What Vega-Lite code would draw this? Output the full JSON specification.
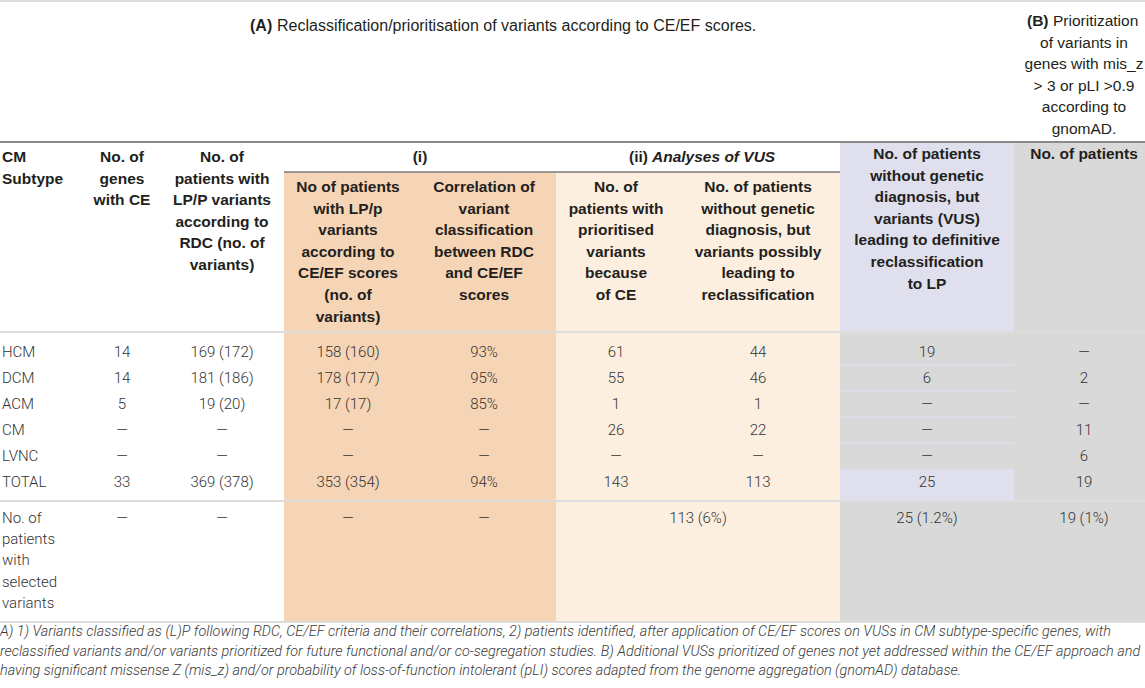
{
  "$schema": "https://vega.github.io/schema/vega-lite/v6.json",
  "width": 1145,
  "height": 688,
  "padding": 0,
  "autosize": {"type": "none"},
  "background": "#ffffff",
  "config": {"view": {"stroke": null}},
  "datasets": {
    "bg": [
      {"x": 6, "x2": 10, "y": 2, "y2": 12, "z": "dark"},
      {"x": 10, "x2": 14, "y": 2, "y2": 12, "z": "light"},
      {"x": 14, "x2": 16, "y": 1, "y2": 12, "z": "purple"},
      {"x": 16, "x2": 18, "y": 1, "y2": 12, "z": "gray"},
      {"x": 14, "x2": 16, "y": 3, "y2": 9, "z": "gray"},
      {"x": 14, "x2": 16, "y": 11, "y2": 12, "z": "gray"}
    ],
    "rules": [
      {"x": 0, "x2": 18, "y": 0, "k": "light"},
      {"x": 0, "x2": 18, "y": 1, "k": "dark"},
      {"x": 6, "x2": 14, "y": 2, "k": "mid"},
      {"x": 0, "x2": 18, "y": 3, "k": "light"},
      {"x": 0, "x2": 18, "y": 11, "k": "light"},
      {"x": 0, "x2": 18, "y": 12, "k": "light"},
      {"x": 14, "x2": 16, "y": 5, "k": "strip"},
      {"x": 14, "x2": 16, "y": 6, "k": "strip"},
      {"x": 14, "x2": 16, "y": 7, "k": "strip"},
      {"x": 14, "x2": 16, "y": 8, "k": "strip"}
    ],
    "hdrMain": [
      {"x": 3, "y": 1, "t": "No. of\ngenes\nwith CE"},
      {"x": 5, "y": 1, "t": "No. of\npatients with\nLP/P variants\naccording to\nRDC (no. of\nvariants)"},
      {"x": 8, "y": 1, "t": "(i)"},
      {"x": 7, "y": 2, "t": "No of patients\nwith LP/p\nvariants\naccording to\nCE/EF scores\n(no. of\nvariants)"},
      {"x": 9, "y": 2, "t": "Correlation of\nvariant\nclassification\nbetween RDC\nand CE/EF\nscores"},
      {"x": 11, "y": 2, "t": "No. of\npatients with\nprioritised\nvariants\nbecause\nof CE"},
      {"x": 13, "y": 2, "t": "No. of patients\nwithout genetic\ndiagnosis, but\nvariants possibly\nleading to\nreclassification"}
    ],
    "hdrLeft": [{"x": 1, "y": 1, "t": "CM\nSubtype"}],
    "hdrPG": [
      {"x": 15, "y": 1, "t": "No. of patients\nwithout genetic\ndiagnosis, but\nvariants (VUS)\nleading to definitive\nreclassification\nto LP"},
      {"x": 17, "y": 1, "t": "No. of patients"}
    ],
    "ii": [{"x": 12, "y": 1, "t": "(ii)"}],
    "vus": [{"x": 12, "y": 1, "t": "Analyses of VUS"}],
    "aBold": [{"x": 6, "y": 0, "t": "(A)"}],
    "aText": [{"x": 6, "y": 0, "t": "Reclassification/prioritisation of variants according to CE/EF scores."}],
    "bBold": [{"x": 17, "y": 0, "t": "(B)"}],
    "bText1": [{"x": 17, "y": 0, "t": "Prioritization"}],
    "bText2": [{"x": 17, "y": 0, "t": "of variants in\ngenes with mis_z\n> 3 or pLI >0.9\naccording to\ngnomAD."}],
    "labels": [
      {"x": 1, "y": 4, "t": "HCM"},
      {"x": 1, "y": 5, "t": "DCM"},
      {"x": 1, "y": 6, "t": "ACM"},
      {"x": 1, "y": 7, "t": "CM"},
      {"x": 1, "y": 8, "t": "LVNC"},
      {"x": 1, "y": 9, "t": "TOTAL"}
    ],
    "cells": [
      {"x": 3, "y": 4, "t": "14"}, {"x": 5, "y": 4, "t": "169 (172)"}, {"x": 7, "y": 4, "t": "158 (160)"}, {"x": 9, "y": 4, "t": "93%"}, {"x": 11, "y": 4, "t": "61"}, {"x": 13, "y": 4, "t": "44"}, {"x": 15, "y": 4, "t": "19"}, {"x": 17, "y": 4, "t": "—"},
      {"x": 3, "y": 5, "t": "14"}, {"x": 5, "y": 5, "t": "181 (186)"}, {"x": 7, "y": 5, "t": "178 (177)"}, {"x": 9, "y": 5, "t": "95%"}, {"x": 11, "y": 5, "t": "55"}, {"x": 13, "y": 5, "t": "46"}, {"x": 15, "y": 5, "t": "6"}, {"x": 17, "y": 5, "t": "2"},
      {"x": 3, "y": 6, "t": "5"}, {"x": 5, "y": 6, "t": "19 (20)"}, {"x": 7, "y": 6, "t": "17 (17)"}, {"x": 9, "y": 6, "t": "85%"}, {"x": 11, "y": 6, "t": "1"}, {"x": 13, "y": 6, "t": "1"}, {"x": 15, "y": 6, "t": "—"}, {"x": 17, "y": 6, "t": "—"},
      {"x": 3, "y": 7, "t": "—"}, {"x": 5, "y": 7, "t": "—"}, {"x": 7, "y": 7, "t": "—"}, {"x": 9, "y": 7, "t": "—"}, {"x": 11, "y": 7, "t": "26"}, {"x": 13, "y": 7, "t": "22"}, {"x": 15, "y": 7, "t": "—"}, {"x": 17, "y": 7, "t": "11"},
      {"x": 3, "y": 8, "t": "—"}, {"x": 5, "y": 8, "t": "—"}, {"x": 7, "y": 8, "t": "—"}, {"x": 9, "y": 8, "t": "—"}, {"x": 11, "y": 8, "t": "—"}, {"x": 13, "y": 8, "t": "—"}, {"x": 15, "y": 8, "t": "—"}, {"x": 17, "y": 8, "t": "6"},
      {"x": 3, "y": 9, "t": "33"}, {"x": 5, "y": 9, "t": "369 (378)"}, {"x": 7, "y": 9, "t": "353 (354)"}, {"x": 9, "y": 9, "t": "94%"}, {"x": 11, "y": 9, "t": "143"}, {"x": 13, "y": 9, "t": "113"}, {"x": 15, "y": 9, "t": "25"}, {"x": 17, "y": 9, "t": "19"}
    ],
    "lastLabel": [{"x": 1, "y": 11, "t": "No. of\npatients\nwith\nselected\nvariants"}],
    "lastCells": [
      {"x": 3, "y": 11, "t": "—"}, {"x": 5, "y": 11, "t": "—"}, {"x": 7, "y": 11, "t": "—"}, {"x": 9, "y": 11, "t": "—"},
      {"x": 12, "y": 11, "t": "113 (6%)"}, {"x": 15, "y": 11, "t": "25 (1.2%)"}, {"x": 17, "y": 11, "t": "19 (1%)"}
    ],
    "notes": [{"x": 0, "y": 12, "t": "A) 1) Variants classified as (L)P following RDC, CE/EF criteria and their correlations, 2) patients identified, after application of CE/EF scores on VUSs in CM subtype-specific genes, with\nreclassified variants and/or variants prioritized for future functional and/or co-segregation studies. B) Additional VUSs prioritized of genes not yet addressed within the CE/EF approach and\nhaving significant missense Z (mis_z) and/or probability of loss-of-function intolerant (pLI) scores adapted from the genome aggregation (gnomAD) database."}]
  },
  "encoding": {
    "x": {
      "field": "x", "type": "quantitative", "axis": null,
      "scale": {"domain": [0,1,2,3,4,5,6,7,8,9,10,11,12,13,14,15,16,17,18], "range": [0,2,82,122,162,222,284,348,420,484,556,616,698,758,840,927,1014,1084,1145], "nice": false, "zero": false}
    },
    "y": {
      "field": "y", "type": "quantitative", "axis": null,
      "scale": {"domain": [0,1,2,3,4,5,6,7,8,9,10,11,12,13], "range": [1,142,172,332,339,365,391,417,443,469,495,501,622,688], "nice": false, "zero": false}
    }
  },
  "layer": [
    {
      "data": {"name": "bg"},
      "mark": {"type": "rect", "opacity": 1},
      "encoding": {
        "x2": {"field": "x2"},
        "y2": {"field": "y2"},
        "fill": {"field": "z", "type": "nominal", "legend": null,
          "scale": {"domain": ["dark","light","purple","gray"], "range": ["#f6d5b6","#fdefdf","#dfdfee","#d9d9d9"]}}
      }
    },
    {
      "data": {"name": "rules"},
      "mark": {"type": "rule"},
      "encoding": {
        "x2": {"field": "x2"},
        "color": {"field": "k", "type": "nominal", "legend": null,
          "scale": {"domain": ["light","dark","mid","strip"], "range": ["#dddddd","#8a8a8a","#7a7a7a","#dfdfee"]}},
        "strokeWidth": {"field": "k", "type": "nominal", "legend": null,
          "scale": {"domain": ["light","dark","mid","strip"], "range": [2,1.5,1.2,3]}}
      }
    },
    {
      "data": {"name": "hdrMain"},
      "mark": {"type": "text", "align": "center", "baseline": "top", "lineBreak": "\n", "font": "Liberation Sans", "fontWeight": "bold", "fontSize": 15.5, "lineHeight": 21.6, "dy": 8, "color": "#231f20"},
      "encoding": {"text": {"field": "t"}}
    },
    {
      "data": {"name": "hdrLeft"},
      "mark": {"type": "text", "align": "left", "baseline": "top", "lineBreak": "\n", "font": "Liberation Sans", "fontWeight": "bold", "fontSize": 15.5, "lineHeight": 21.6, "dy": 8, "color": "#231f20"},
      "encoding": {"text": {"field": "t"}}
    },
    {
      "data": {"name": "hdrPG"},
      "mark": {"type": "text", "align": "center", "baseline": "top", "lineBreak": "\n", "font": "Liberation Sans", "fontWeight": "bold", "fontSize": 15.5, "lineHeight": 21.6, "dy": 5, "color": "#231f20"},
      "encoding": {"text": {"field": "t"}}
    },
    {
      "data": {"name": "ii"},
      "mark": {"type": "text", "align": "left", "baseline": "top", "font": "Liberation Sans", "fontWeight": "bold", "fontSize": 15.5, "dy": 8, "dx": -69, "color": "#231f20"},
      "encoding": {"text": {"field": "t"}}
    },
    {
      "data": {"name": "vus"},
      "mark": {"type": "text", "align": "left", "baseline": "top", "font": "Liberation Sans", "fontWeight": "bold", "fontStyle": "italic", "fontSize": 15.5, "dy": 8, "dx": -46, "color": "#231f20"},
      "encoding": {"text": {"field": "t"}}
    },
    {
      "data": {"name": "aBold"},
      "mark": {"type": "text", "align": "left", "baseline": "top", "font": "Liberation Sans", "fontWeight": "bold", "fontSize": 16, "dy": 17, "dx": -34, "color": "#231f20"},
      "encoding": {"text": {"field": "t"}}
    },
    {
      "data": {"name": "aText"},
      "mark": {"type": "text", "align": "left", "baseline": "top", "font": "Liberation Sans", "fontSize": 16, "dy": 17, "dx": -7, "color": "#231f20"},
      "encoding": {"text": {"field": "t"}}
    },
    {
      "data": {"name": "bBold"},
      "mark": {"type": "text", "align": "left", "baseline": "top", "font": "Liberation Sans", "fontWeight": "bold", "fontSize": 15.5, "dy": 13, "dx": -57, "color": "#231f20"},
      "encoding": {"text": {"field": "t"}}
    },
    {
      "data": {"name": "bText1"},
      "mark": {"type": "text", "align": "left", "baseline": "top", "font": "Liberation Sans", "fontSize": 15.5, "dy": 13, "dx": -31, "color": "#231f20"},
      "encoding": {"text": {"field": "t"}}
    },
    {
      "data": {"name": "bText2"},
      "mark": {"type": "text", "align": "center", "baseline": "top", "lineBreak": "\n", "font": "Liberation Sans", "fontSize": 15.5, "lineHeight": 21.4, "dy": 35, "color": "#231f20"},
      "encoding": {"text": {"field": "t"}}
    },
    {
      "data": {"name": "labels"},
      "mark": {"type": "text", "align": "left", "baseline": "top", "font": "Roboto", "fontWeight": 300, "fontSize": 15, "dy": 6, "color": "#333333"},
      "encoding": {"text": {"field": "t"}}
    },
    {
      "data": {"name": "cells"},
      "mark": {"type": "text", "align": "center", "baseline": "top", "font": "Roboto", "fontWeight": 300, "fontSize": 15, "dy": 6, "color": "#333333"},
      "encoding": {"text": {"field": "t"}}
    },
    {
      "data": {"name": "lastLabel"},
      "mark": {"type": "text", "align": "left", "baseline": "top", "lineBreak": "\n", "font": "Roboto", "fontWeight": 300, "fontSize": 15, "lineHeight": 21.2, "dy": 10, "color": "#333333"},
      "encoding": {"text": {"field": "t"}}
    },
    {
      "data": {"name": "lastCells"},
      "mark": {"type": "text", "align": "center", "baseline": "top", "font": "Roboto", "fontWeight": 300, "fontSize": 15, "dy": 10, "color": "#333333"},
      "encoding": {"text": {"field": "t"}}
    },
    {
      "data": {"name": "notes"},
      "mark": {"type": "text", "align": "left", "baseline": "top", "lineBreak": "\n", "font": "Roboto", "fontWeight": 300, "fontStyle": "italic", "fontSize": 14.4, "lineHeight": 19.5, "dy": 3, "color": "#3a3a3a"},
      "encoding": {"text": {"field": "t"}}
    }
  ]
}
